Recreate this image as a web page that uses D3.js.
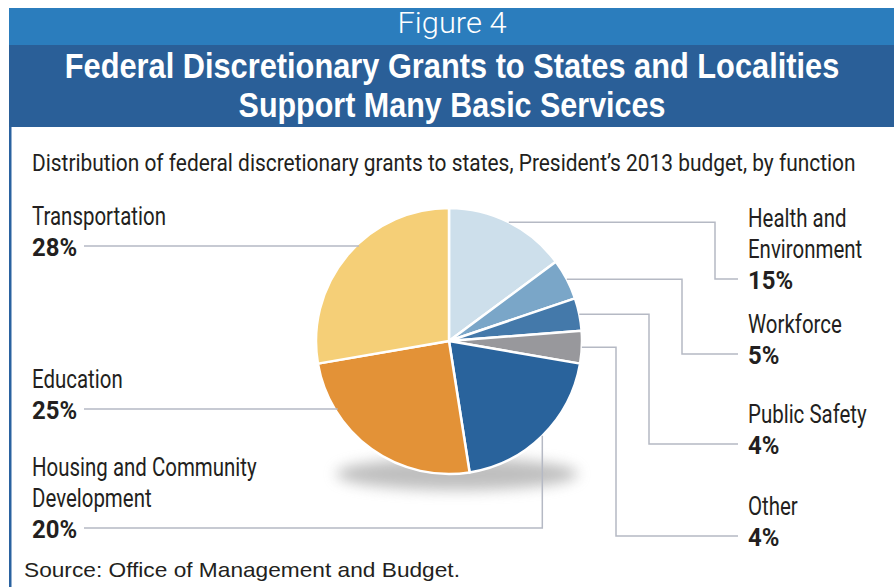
<!DOCTYPE html>
<html>
<head>
<meta charset="utf-8">
<script src="https://cdn.jsdelivr.net/npm/d3@7"></script>
<style>
  html, body { margin: 0; padding: 0; background: #fff; }
  svg { display: block; }
</style>
</head>
<body>
<div id="chart"></div>
<script>
// Share of federal discretionary grants to states, by function (percent)
const categories = ["Health and Environment", "Workforce", "Public Safety", "Other",
                    "Housing and Community Development", "Education", "Transportation"];
const shares = [15, 5, 4, 4, 20, 25, 28];
const shareLabels = ["15%", "5%", "4%", "4%", "20%", "25%", "28%"];
const nameLines = [["Health and", "Environment"], ["Workforce"], ["Public Safety"], ["Other"],
                   ["Housing and Community", "Development"], ["Education"], ["Transportation"]];
const sliceColors = ["#cddfeb", "#7aa6c8", "#4479aa", "#98989c", "#29639c", "#e39237", "#f5cf77"];

const figureLabel = "Figure 4";
const titleLines = ["Federal Discretionary Grants to States and Localities", "Support Many Basic Services"];
const subtitle = "Distribution of federal discretionary grants to states, President\u2019s 2013 budget, by function";
const sourceNote = "Source: Office of Management and Budget.";

const W = 894, H = 587;
const svg = d3.select("#chart").append("svg").attr("width", W).attr("height", H);

// Place a text at (x, y) and squeeze it horizontally so it spans `width` pixels
// (or by a fixed factor when `factor` is given).
function placeText(parent, str, x, y, opts) {
  const t = parent.append("text").attr("x", 0).attr("y", 0).text(str);
  Object.entries(opts.attrs || {}).forEach(([k, v]) => t.attr(k, v));
  let k = opts.factor || 1;
  if (opts.width) k = opts.width / t.node().getComputedTextLength();
  t.attr("transform", `translate(${x},${y}) scale(${k},1)`);
  return t;
}

// ---- header bands ----
svg.append("rect").attr("x", 9).attr("y", 8).attr("width", W - 9).attr("height", 37).attr("fill", "#2b7dbd");
svg.append("rect").attr("x", 9).attr("y", 45).attr("width", W - 9).attr("height", 82).attr("fill", "#2a5f98");
svg.append("rect").attr("x", 9).attr("y", 127).attr("width", 2.5).attr("height", H - 127).attr("fill", "#2a62a0");

const sansFont = "'Liberation Sans', Arial, sans-serif";
placeText(svg, figureLabel, 452, 33, { width: 109, attrs: {
  "text-anchor": "middle", "font-family": "Roboto, " + sansFont, "font-weight": 300, "font-size": 30, fill: "#fff" } });

const titleWidths = [775, 427];
titleLines.forEach((t, i) => {
  placeText(svg, t, 452, 78 + i * 39, { width: titleWidths[i], attrs: {
    "text-anchor": "middle", "font-family": sansFont, "font-weight": "bold", "font-size": 35, fill: "#fff" } });
});

const bodyFont = "Roboto, 'Liberation Sans', sans-serif";
const ink = "#231f20";

placeText(svg, subtitle, 32, 171, { width: 824, attrs: {
  "font-family": bodyFont, "font-size": 23.5, fill: ink } });

placeText(svg, sourceNote, 24, 577, { width: 436, attrs: {
  "font-family": sansFont, "font-size": 21, fill: ink } });

// ---- pie ----
const cx = 449, cy = 341, R = 133;
const defs = svg.append("defs");
defs.append("filter").attr("id", "shadowBlur").attr("x", "-50%").attr("y", "-200%")
  .attr("width", "200%").attr("height", "500%")
  .append("feGaussianBlur").attr("stdDeviation", 7);

svg.append("ellipse").attr("cx", cx + 8).attr("cy", cy + R).attr("rx", R - 12).attr("ry", 16)
  .attr("fill", "#8a8a8a").attr("opacity", 0.55).attr("filter", "url(#shadowBlur)");

const pie = d3.pie().sort(null).value(d => d)(shares);
const arc = d3.arc().innerRadius(0).outerRadius(R);
const pieG = svg.append("g").attr("transform", `translate(${cx},${cy})`);
pieG.selectAll("path").data(pie).join("path")
  .attr("d", arc)
  .attr("fill", (d, i) => sliceColors[i])
  .attr("stroke", "#fff").attr("stroke-width", 2.5).attr("stroke-linejoin", "round");

// ---- labels and leader lines ----
const lineColor = "#b5b9c4";
const lineH = 31;
const leaders = svg.append("g").attr("fill", "none").attr("stroke", lineColor).attr("stroke-width", 1.5);

// point on the rim at a given angle (radians, clockwise from 12 o'clock)
const rim = a => [cx + R * Math.sin(a), cy - R * Math.cos(a)];
const midAngle = d => (d.startAngle + d.endAngle) / 2;

// label placement: side and baseline of the first text line
const layout = [
  { side: "right", y: 227, elbowX: 715 },
  { side: "right", y: 333, elbowX: 682 },
  { side: "right", y: 423, elbowX: 649 },
  { side: "right", y: 515, elbowX: 616 },
  { side: "left-bottom", y: 476 },
  { side: "left", y: 388 },
  { side: "left", y: 225 }
];

const labelG = svg.append("g").attr("font-family", bodyFont).attr("fill", ink).attr("font-size", 25.5);

// condensed label face: squeeze factor taken from one sample word
const probe = labelG.append("text").text("Transportation");
const squeeze = 134 / probe.node().getComputedTextLength();
probe.remove();

pie.forEach((d, i) => {
  const L = layout[i];
  const lines = nameLines[i];
  const x = L.side === "right" ? 748 : 32;
  lines.forEach((t, j) => placeText(labelG, t, x, L.y + j * lineH, { factor: squeeze }));
  const pctY = L.y + lines.length * lineH;
  placeText(labelG, shareLabels[i], x, pctY, { factor: squeeze * 1.17, attrs: { "font-weight": "bold" } });
  const ly = pctY - 10;

  if (L.side === "right") {
    const [sx, sy] = rim(midAngle(d));
    leaders.append("path").attr("d", d3.line()([[sx, sy], [L.elbowX, sy], [L.elbowX, ly], [738, ly]]));
  } else if (L.side === "left") {
    const ex = cx - Math.sqrt(R * R - (ly - cy) * (ly - cy)) + 3;
    leaders.append("path").attr("d", d3.line()([[84, ly], [ex, ly]]));
  } else {
    const [sx, sy] = rim(midAngle(d));
    leaders.append("path").attr("d", d3.line()([[sx, sy], [sx, ly], [84, ly]]));
  }
});
</script>
</body>
</html>
